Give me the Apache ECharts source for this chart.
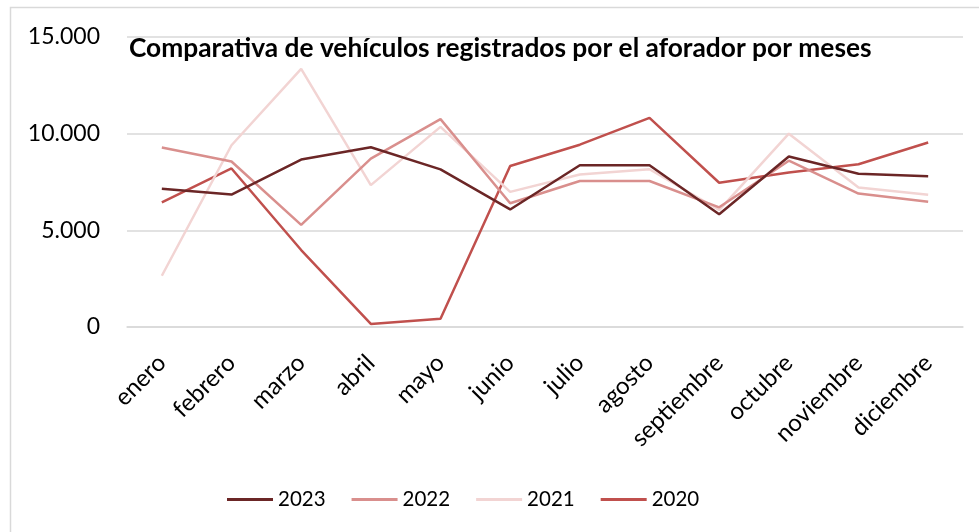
<!DOCTYPE html>
<html>
<head>
<meta charset="utf-8">
<script src="https://cdn.jsdelivr.net/npm/echarts@6/dist/echarts.min.js"></script>
<style>
  html, body { margin: 0; padding: 0; background: #ffffff; }
  #chart { width: 979px; height: 532px; }
</style>
</head>
<body>
<div id="chart"></div>
<script>
// Monthly vehicle counts from the traffic counter, one series per year
const months = ['enero', 'febrero', 'marzo', 'abril', 'mayo', 'junio', 'julio', 'agosto', 'septiembre', 'octubre', 'noviembre', 'diciembre'];
const years = ['2023', '2022', '2021', '2020'];
const values2023 = [7150, 6850, 8660, 9300, 8150, 6080, 8370, 8370, 5830, 8820, 7930, 7800];
const values2022 = [9280, 8560, 5280, 8710, 10750, 6400, 7550, 7550, 6190, 8600, 6900, 6480];
const values2021 = [2650, 9400, 13350, 7340, 10350, 6990, 7890, 8160, 6050, 10000, 7220, 6840];
const values2020 = [6450, 8200, 3980, 160, 430, 8330, 9430, 10820, 7460, 7990, 8420, 9540];
const yTicks = [0, 5000, 10000, 15000];

const seriesValues = [values2023, values2022, values2021, values2020];
const colors = ['#6b2626', '#d98f8d', '#f2d4d3', '#c0504d'];

const fmt = v => v === 0 ? '0' : String(v).replace(/\B(?=(\d{3})+(?!\d))/g, '.');

const chart = echarts.init(document.getElementById('chart'), null, { renderer: 'canvas' });
chart.setOption({
  animation: false,
  backgroundColor: '#ffffff',
  textStyle: { fontFamily: 'Lato' },
  title: {
    text: 'Comparativa de vehículos registrados por el aforador por meses',
    left: 124,
    top: 31,
    textStyle: { fontFamily: 'Lato', fontWeight: 'bold', fontSize: 26.3, color: '#000000' }
  },
  graphic: [{
    type: 'rect',
    shape: { x: 10.5, y: 7.5, width: 1000, height: 600 },
    style: { fill: 'none', stroke: '#d9d9d9', lineWidth: 1.5 },
    silent: true,
    z: -1
  }],
  legend: {
    data: years,
    bottom: 22,
    left: 227,
    padding: 0,
    icon: 'rect',
    itemWidth: 46,
    itemHeight: 3,
    itemGap: 26,
    textStyle: { fontFamily: 'Lato', fontSize: 20.5, color: '#000000', padding: [0, 0, 0, 0] }
  },
  grid: { left: 127, right: 16, top: 37, bottom: 205, containLabel: false },
  xAxis: {
    type: 'category',
    data: months,
    boundaryGap: true,
    axisLine: { show: true, lineStyle: { color: '#d9d9d9', width: 1.5 } },
    axisTick: { show: false },
    axisLabel: { rotate: 45, fontFamily: 'Lato', fontSize: 24, color: '#000000', margin: 32, interval: 0 }
  },
  yAxis: {
    type: 'value',
    min: yTicks[0],
    max: yTicks[yTicks.length - 1],
    interval: yTicks[1] - yTicks[0],
    axisLine: { show: false },
    axisTick: { show: false },
    splitLine: { lineStyle: { color: '#d9d9d9', width: 1.5 } },
    axisLabel: { fontFamily: 'Lato', fontSize: 23, color: '#000000', margin: 27, formatter: fmt }
  },
  series: years.map((y, i) => ({
    name: y,
    type: 'line',
    data: seriesValues[i],
    symbol: 'none',
    color: colors[i],
    lineStyle: { color: colors[i], width: 2.5 },
    z: 10 - i
  }))
});
</script>
</body>
</html>
